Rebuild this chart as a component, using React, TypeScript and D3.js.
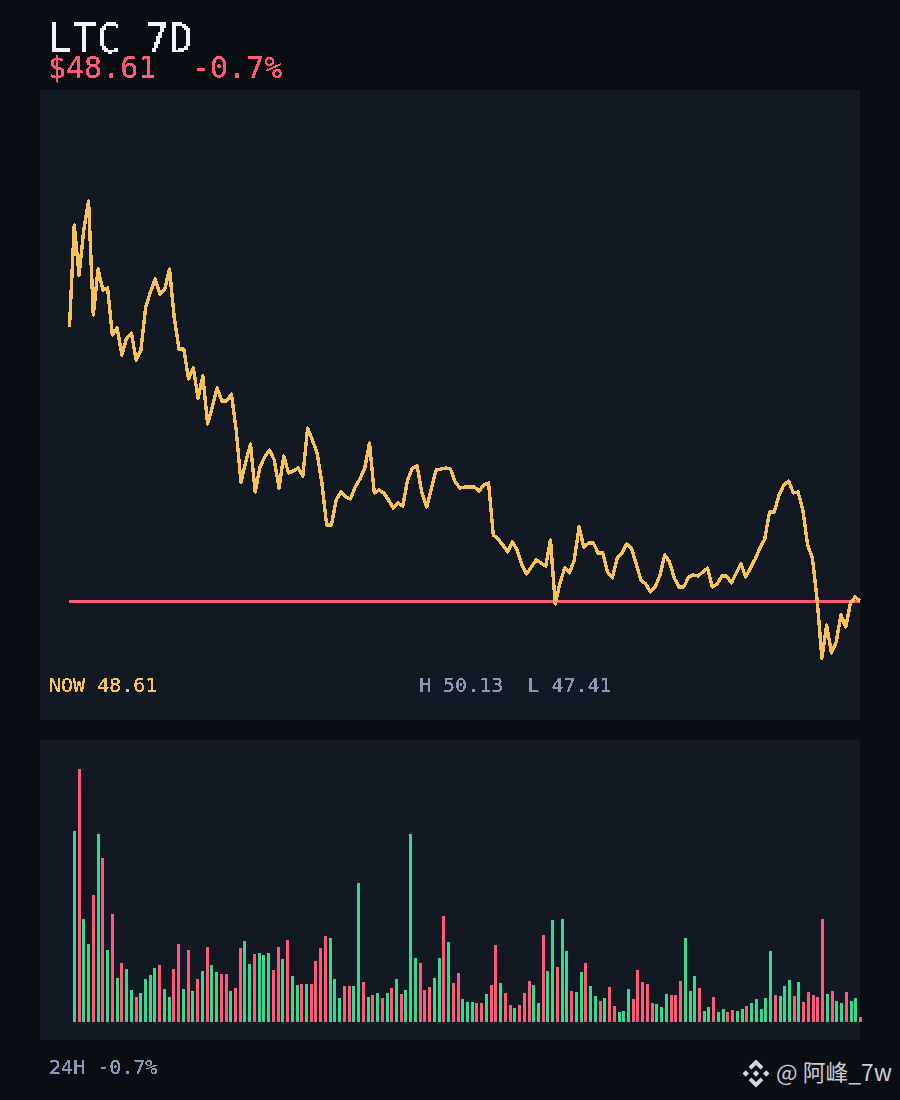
import React from 'react';
import * as d3 from 'd3';

// price level, one point per hour (height above the 7d low)
const priceLevel: number[] = [
  331, 433, 383, 428, 457, 343, 389, 368, 370, 323,
  330, 303, 320, 325, 298, 308, 351, 366, 379, 364,
  369, 389, 340, 309, 309, 279, 290, 260, 282, 234,
  251, 270, 257, 257, 264, 228, 176, 196, 214, 166,
  191, 201, 208, 198, 170, 202, 185, 187, 190, 182,
  230, 218, 205, 175, 133, 133, 158, 166, 161, 159,
  171, 179, 190, 215, 165, 168, 165, 158, 150, 155,
  152, 178, 190, 192, 165, 151, 170, 188, 189, 190,
  189, 176, 170, 171, 171, 171, 167, 173, 175, 123,
  119, 113, 106, 116, 108, 93, 84, 91, 98, 95,
  92, 118, 54, 75, 90, 85, 98, 131, 111, 115,
  115, 105, 105, 86, 80, 100, 105, 114, 110, 94,
  78, 74, 66, 71, 83, 103, 96, 80, 71, 71,
  81, 83, 82, 86, 90, 71, 74, 82, 82, 75,
  85, 94, 81, 90, 99, 110, 119, 146, 146, 163,
  173, 177, 165, 166, 148, 113, 100, 58, 0, 33,
  5, 16, 43, 31, 55, 61, 57,
];

const volume: number[] = [
  191, 253, 103, 78, 127, 188, 164, 72, 108, 44,
  59, 53, 32, 25, 29, 43, 47, 54, 57, 33,
  25, 53, 78, 33, 72, 31, 43, 51, 75, 57,
  50, 48, 48, 31, 34, 74, 81, 58, 68, 69,
  67, 69, 52, 75, 63, 82, 46, 37, 38, 38,
  38, 61, 74, 86, 84, 43, 24, 36, 36, 36,
  139, 40, 25, 27, 29, 24, 29, 34, 43, 28,
  32, 188, 64, 59, 32, 35, 44, 64, 106, 80,
  39, 49, 23, 20, 20, 19, 19, 28, 37, 77,
  39, 29, 17, 14, 17, 29, 41, 37, 19, 87,
  51, 102, 55, 103, 71, 31, 30, 50, 59, 36,
  26, 21, 24, 35, 16, 10, 11, 33, 23, 52,
  40, 38, 19, 18, 15, 28, 27, 27, 41, 84,
  31, 46, 34, 11, 15, 25, 10, 13, 10, 12,
  11, 13, 16, 19, 23, 13, 24, 71, 27, 26,
  36, 42, 26, 40, 20, 30, 27, 25, 103, 28,
  31, 21, 19, 30, 21, 24, 5,
];

// r = red candle, g = green candle
const candleSide: string =
  'grggrgrgrg' + 'rggrggggrg' + 'grrgrgrgrg' + 'grrgrrggrg' +
  'ggrrgrggrg' + 'rrrrgggrrg' + 'grgrgrgrgr' + 'gggrrrggrg' +
  'rrgggrrgrr' + 'grrgrrrggr' + 'ggrggrggrg' + 'grgrrgggrr' +
  'rrrgggrrrg' + 'ggrggrggrr' + 'ggrgggggrg' + 'ggrgrrrrrg' +
  'rggrggr';

const titleText = 'LTC 7D';
const priceText = '$48.61';
const changeText = '-0.7%';
const nowText = 'NOW 48.61';
const rangeText = 'H 50.13  L 47.41';
const footerText = '24H -0.7%';
const watermarkText = '@ 阿峰_7w';

const BG = '#0a0d12';
const PANEL = '#121923';
const RED = '#ff5a78';
const GREEN = '#35d98f';
const AMBER = '#f7c25c';
const SLATE = '#8a99b3';
const MONO = '"DejaVu Sans Mono", monospace';

const x = d3.scaleLinear().domain([0, priceLevel.length - 1]).range([69.5, 860]);
const y = d3.scaleLinear().domain([0, 457]).range([658, 201]);
const barX = d3.scaleLinear().domain([0, volume.length - 1]).range([73, 859]);
const barY = d3.scaleLinear().domain([0, 253]).range([1022, 769]);

const linePath = d3.line<number>()
  .x((_, i) => x(i))
  .y(d => y(d))(priceLevel)!;

const lastLevel = priceLevel[priceLevel.length - 1];

const App: React.FC = () => (
  <svg
    width={900}
    height={1100}
    viewBox="0 0 900 1100"
    style={{ position: 'absolute', left: 0, top: 0, display: 'block' }}
  >
    <defs>
      {/* big text: the reference is a low-res canvas scaled up, so sample every 2nd pixel and grow to 2x2 */}
      <filter id="px" filterUnits="userSpaceOnUse" x={0} y={0} width={900} height={1100}
        colorInterpolationFilters="sRGB">
        <feFlood x={0} y={0} width={1} height={1} floodColor="#000" />
        <feComposite x={0} y={0} width={2} height={2} />
        <feTile result="dots" />
        <feComposite in="SourceGraphic" in2="dots" operator="in" />
        <feConvolveMatrix order={2} kernelMatrix="1 1 1 1" divisor={1} targetX={1} targetY={1}
          edgeMode="none" preserveAlpha="false" />
        <feComponentTransfer>
          <feFuncA type="discrete" tableValues="0 1 1" />
        </feComponentTransfer>
      </filter>
      {/* small text stays readable with just a hard alpha edge */}
      <filter id="hard" filterUnits="userSpaceOnUse" x={0} y={0} width={900} height={1100}
        colorInterpolationFilters="sRGB">
        <feComponentTransfer>
          <feFuncA type="discrete" tableValues="0 1 1" />
        </feComponentTransfer>
      </filter>
    </defs>
    <rect width={900} height={1100} fill={BG} />
    <rect x={40} y={90} width={820} height={630} fill={PANEL} />
    <rect x={40} y={740} width={820} height={300} fill={PANEL} />

    <g fontFamily={MONO} filter="url(#px)">
      <text x={48} y={52} fontSize={40} fill="#f2f5f9">{titleText}</text>
    </g>
    <g fontFamily={MONO} filter="url(#hard)">
      <text x={48} y={78} fontSize={30} fill={RED}>{priceText}</text>
      <text x={192} y={78} fontSize={30} fill={RED}>{changeText}</text>
      <text x={49} y={692} fontSize={20} fill={AMBER}>{nowText}</text>
      <text x={419} y={692} fontSize={20} fill={SLATE} xmlSpace="preserve">{rangeText}</text>
      <text x={49} y={1074} fontSize={20} fill={SLATE}>{footerText}</text>
    </g>

    {/* reference line at the last price */}
    <line x1={x(0) - 1} x2={x(priceLevel.length - 1)} y1={y(lastLevel)} y2={y(lastLevel)}
      stroke={RED} strokeWidth={3} shapeRendering="crispEdges" />
    <path d={linePath} fill="none" stroke={AMBER} strokeWidth={3.4} strokeLinejoin="round"
      shapeRendering="crispEdges" />

    {volume.map((v, i) => (
      <rect
        key={i}
        x={Math.round(barX(i))}
        y={barY(v)}
        width={3}
        height={barY(0) - barY(v)}
        fill={candleSide[i] === 'r' ? RED : GREEN}
        shapeRendering="crispEdges"
      />
    ))}

    {/* watermark */}
    <g transform="translate(756,1073.5) scale(1.22)" fill="#d4d7dc">
      <path d="M0,-11.5 L6,-5.5 L3.8,-3.3 L0,-7 L-3.8,-3.3 L-6,-5.5 Z" />
      <path d="M0,11.5 L6,5.5 L3.8,3.3 L0,7 L-3.8,3.3 L-6,5.5 Z" />
      <path d="M0,-2.6 L2.6,0 L0,2.6 L-2.6,0 Z" />
      <path d="M-11,0 L-8.4,-2.6 L-5.8,0 L-8.4,2.6 Z" />
      <path d="M11,0 L8.4,-2.6 L5.8,0 L8.4,2.6 Z" />
    </g>
    <text x={776} y={1081} fontSize={22.8} fill="#c9ccd2" fontFamily='"Noto Sans CJK SC", "Noto Sans", sans-serif'>
      {watermarkText}
    </text>
  </svg>
);

export default App;
